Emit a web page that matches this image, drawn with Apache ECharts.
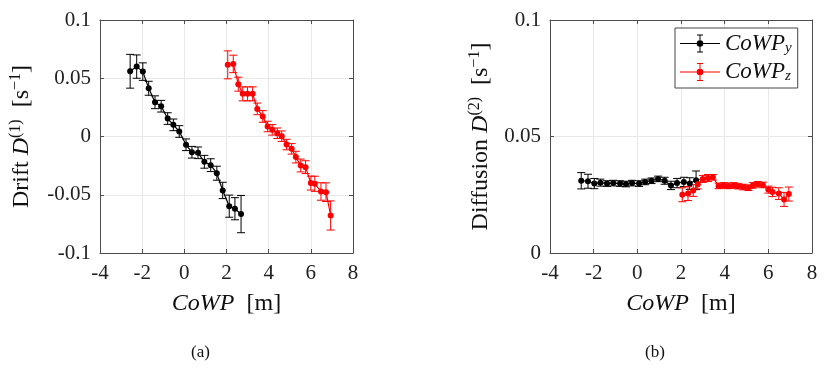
<!DOCTYPE html>
<html>
<head>
<meta charset="utf-8">
<script src="https://cdn.jsdelivr.net/npm/echarts@6/dist/echarts.min.js"></script>
<style>
  html, body { margin: 0; padding: 0; background: #fff; }
  #chart { width: 825px; height: 369px; }
</style>
</head>
<body>
<div id="chart"></div>
<script>
  // CoWP positions (m)
  const blackX = [-2.57, -2.26, -1.97, -1.69, -1.39, -1.10, -0.79, -0.52, -0.24, 0.08, 0.36, 0.65, 0.95, 1.25, 1.54, 1.82, 2.13, 2.40, 2.69]
  const redX = [2.06, 2.32, 2.56, 2.77, 3.00, 3.24, 3.46, 3.72, 3.95, 4.17, 4.41, 4.62, 4.85, 5.09, 5.29, 5.52, 5.75, 6.00, 6.19, 6.48, 6.72, 6.94]

  // drift D(1)
  const blackDrift = [0.0560, 0.0600, 0.0557, 0.0414, 0.0294, 0.0260, 0.0154, 0.0100, 0.0043, -0.0071, -0.0135, -0.0140, -0.0217, -0.0246, -0.0315, -0.0463, -0.0598, -0.0620, -0.0666]
  const blackDriftErr = [0.0145, 0.0100, 0.0075, 0.0060, 0.0055, 0.0050, 0.0050, 0.0050, 0.0050, 0.0050, 0.0050, 0.0050, 0.0055, 0.0055, 0.0060, 0.0070, 0.0095, 0.0095, 0.0160]
  const redDrift = [0.0615, 0.0623, 0.0449, 0.0366, 0.0366, 0.0366, 0.0237, 0.0172, 0.0086, 0.0057, 0.0028, 0.0003, -0.0069, -0.0106, -0.0177, -0.0249, -0.0263, -0.0400, -0.0406, -0.0472, -0.0478, -0.0678]
  const redDriftErr = [0.0120, 0.0075, 0.0060, 0.0060, 0.0060, 0.0060, 0.0050, 0.0050, 0.0045, 0.0045, 0.0045, 0.0045, 0.0045, 0.0045, 0.0050, 0.0055, 0.0055, 0.0060, 0.0065, 0.0075, 0.0080, 0.0125]

  // diffusion D(2)
  const blackDiff = [0.0310, 0.0308, 0.0298, 0.0302, 0.0298, 0.0300, 0.0298, 0.0296, 0.0300, 0.0298, 0.0305, 0.0310, 0.0318, 0.0310, 0.0290, 0.0300, 0.0305, 0.0298, 0.0312]
  const blackDiffErr = [0.0035, 0.0030, 0.0022, 0.0015, 0.0012, 0.0012, 0.0012, 0.0012, 0.0012, 0.0012, 0.0012, 0.0012, 0.0012, 0.0015, 0.0018, 0.0020, 0.0020, 0.0025, 0.0040]
  const redDiff = [0.0250, 0.0255, 0.0268, 0.0295, 0.0318, 0.0322, 0.0325, 0.0288, 0.0290, 0.0288, 0.0290, 0.0287, 0.0283, 0.0280, 0.0290, 0.0295, 0.0292, 0.0272, 0.0262, 0.0255, 0.0230, 0.0253]
  const redDiffErr = [0.0030, 0.0030, 0.0025, 0.0020, 0.0015, 0.0015, 0.0012, 0.0012, 0.0012, 0.0012, 0.0012, 0.0012, 0.0012, 0.0012, 0.0012, 0.0012, 0.0012, 0.0015, 0.0020, 0.0025, 0.0030, 0.0030]

  const xTicks = { min: -4, max: 8, interval: 2 }

  const SERIF = '"Liberation Serif", "DejaVu Serif", serif'
  const AXIS_COLOR = '#4d4d4d'
  const GRID_COLOR = '#e8e8e8'

  const nameRich = {
    n: { fontFamily: SERIF, fontSize: 24, lineHeight: 28, color: '#111' },
    i: { fontFamily: SERIF, fontSize: 24, lineHeight: 28, fontStyle: 'italic', color: '#111' },
    sp: { fontFamily: SERIF, fontSize: 16, lineHeight: 16, verticalAlign: 'top', color: '#111' }
  }
  const legendRich = {
    i: { fontFamily: SERIF, fontSize: 23, lineHeight: 24, fontStyle: 'italic', color: '#111' },
    sb: { fontFamily: SERIF, fontSize: 15, lineHeight: 12, verticalAlign: 'bottom', fontStyle: 'italic', color: '#111' }
  }

  function pairs(xs, ys) {
    return xs.map((x, k) => [x, ys[k]])
  }
  function bars(xs, ys, es) {
    return xs.map((x, k) => [x, ys[k] - es[k], ys[k] + es[k]])
  }

  function errRender(color) {
    return function (params, api) {
      const lo = api.coord([api.value(0), api.value(1)])
      const hi = api.coord([api.value(0), api.value(2)])
      const w = 4
      const st = { stroke: color, lineWidth: 1 }
      return {
        type: 'group',
        children: [
          { type: 'line', shape: { x1: lo[0], y1: lo[1], x2: hi[0], y2: hi[1] }, style: st },
          { type: 'line', shape: { x1: lo[0] - w, y1: lo[1], x2: lo[0] + w, y2: lo[1] }, style: st },
          { type: 'line', shape: { x1: hi[0] - w, y1: hi[1], x2: hi[0] + w, y2: hi[1] }, style: st }
        ]
      }
    }
  }

  function xAx(gi, pos) {
    const main = pos === 'bottom'
    return {
      type: 'value', gridIndex: gi, position: pos,
      min: xTicks.min, max: xTicks.max, interval: xTicks.interval,
      axisLine: { show: true, onZero: false, lineStyle: { color: AXIS_COLOR, width: 1 } },
      axisTick: { show: true, inside: true, length: 4, lineStyle: { color: AXIS_COLOR } },
      axisLabel: { show: main, margin: 10, fontFamily: SERIF, fontSize: 21, color: '#222' },
      splitLine: { show: main, lineStyle: { color: GRID_COLOR } },
      name: main ? '{i|CoWP}{n|  [m]}' : '',
      nameLocation: 'middle', nameGap: 37,
      nameTextStyle: { rich: nameRich }
    }
  }

  function yAx(gi, pos, min, max, name, gap) {
    const main = pos === 'left'
    return {
      type: 'value', gridIndex: gi, position: pos,
      min: min, max: max, interval: 0.05,
      axisLine: { show: true, onZero: false, lineStyle: { color: AXIS_COLOR, width: 1 } },
      axisTick: { show: true, inside: true, length: 4, lineStyle: { color: AXIS_COLOR } },
      axisLabel: { show: main, margin: 9, fontFamily: SERIF, fontSize: 21, color: '#222' },
      splitLine: { show: main, lineStyle: { color: GRID_COLOR } },
      name: main ? name : '',
      nameLocation: 'middle', nameGap: gap, nameRotate: 90,
      nameTextStyle: { rich: nameRich }
    }
  }

  function lineSeries(name, xi, data, color) {
    return {
      name: name, type: 'line', xAxisIndex: xi, yAxisIndex: xi,
      data: data, symbol: 'circle', symbolSize: 6,
      lineStyle: { color: color, width: 1.2 },
      itemStyle: { color: color },
      z: 3
    }
  }
  function errSeries(name, xi, data, color) {
    return {
      name: name, type: 'custom', xAxisIndex: xi, yAxisIndex: xi,
      data: data, renderItem: errRender(color),
      encode: { x: 0, y: [1, 2] },
      itemStyle: { color: color },
      z: 2
    }
  }

  // legend icon: line + error bar + dot
  const legendIcon = 'path://M0 9.5H40V10.5H0Z M19.5 1H20.5V19H19.5Z M17 1H23V2H17Z M17 18H23V19H17Z M20 6.7A3.3 3.3 0 1 1 20 13.3A3.3 3.3 0 1 1 20 6.7Z'

  const chart = echarts.init(document.getElementById('chart'))
  chart.setOption({
    animation: false,
    backgroundColor: '#fff',
    title: [
      { text: '(a)', left: 186, top: 339, textStyle: { fontFamily: SERIF, fontSize: 17, fontWeight: 'normal', color: '#111' } },
      { text: '(b)', left: 640, top: 339, textStyle: { fontFamily: SERIF, fontSize: 17, fontWeight: 'normal', color: '#111' } }
    ],
    legend: {
      data: [
        { name: 'CoWPy', icon: legendIcon, itemStyle: { color: '#000' } },
        { name: 'CoWPz', icon: legendIcon, itemStyle: { color: '#ff0000' } }
      ],
      orient: 'vertical', left: 675, top: 28,
      itemWidth: 40, itemHeight: 19, itemGap: 5,
      padding: [4, 6, 4, 5],
      backgroundColor: '#fff', borderColor: '#444', borderWidth: 1,
      formatter: function (n) { return '{i|CoWP}{sb|' + n.slice(4) + '}' },
      textStyle: { rich: legendRich }
    },
    grid: [
      { left: 100, top: 20, width: 253, height: 233 },
      { left: 550, top: 20, width: 262, height: 233 }
    ],
    xAxis: [xAx(0, 'bottom'), xAx(1, 'bottom'), xAx(0, 'top'), xAx(1, 'top')],
    yAxis: [
      yAx(0, 'left', -0.1, 0.1, '{n|Drift }{i|D}{sp|(1)}{n|  [s}{sp|−1}{n|]}', 64),
      yAx(1, 'left', 0, 0.1, '{n|Diffusion }{i|D}{sp|(2)}{n|  [s}{sp|−1}{n|]}', 55),
      yAx(0, 'right', -0.1, 0.1, '', 0),
      yAx(1, 'right', 0, 0.1, '', 0)
    ],
    series: [
      errSeries('CoWPy', 0, bars(blackX, blackDrift, blackDriftErr), '#000'),
      lineSeries('CoWPy', 0, pairs(blackX, blackDrift), '#000'),
      errSeries('CoWPz', 0, bars(redX, redDrift, redDriftErr), '#ff0000'),
      lineSeries('CoWPz', 0, pairs(redX, redDrift), '#ff0000'),
      errSeries('CoWPy', 1, bars(blackX, blackDiff, blackDiffErr), '#000'),
      lineSeries('CoWPy', 1, pairs(blackX, blackDiff), '#000'),
      errSeries('CoWPz', 1, bars(redX, redDiff, redDiffErr), '#ff0000'),
      lineSeries('CoWPz', 1, pairs(redX, redDiff), '#ff0000')
    ]
  })
</script>
</body>
</html>
